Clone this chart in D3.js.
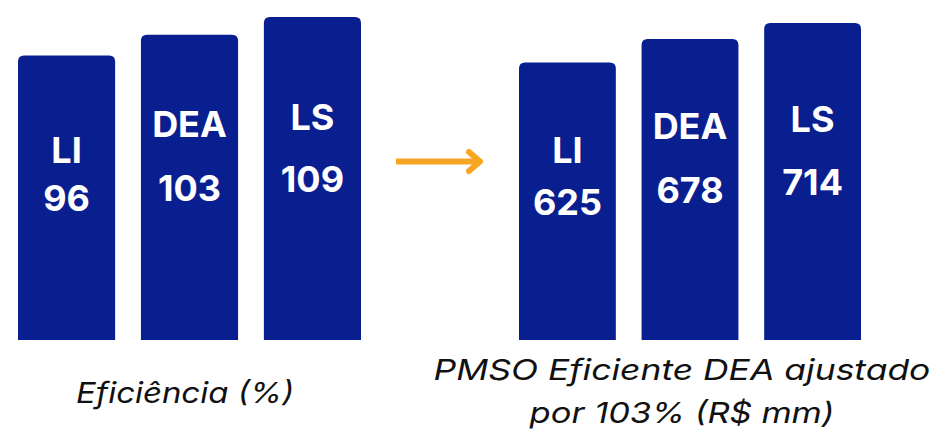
<!DOCTYPE html>
<html>
<head>
<meta charset="utf-8">
<script src="https://cdn.jsdelivr.net/npm/d3@7"></script>
<style>
  html, body { margin: 0; padding: 0; background: #ffffff; }
  svg { display: block; }
</style>
</head>
<body>
<svg id="chart" width="933" height="436"></svg>
<script>
// Categories shared by both panels
const categories = ["LI", "DEA", "LS"];
// Efficiency (%)
const efficiencyValues = [96, 103, 109];
// Efficient PMSO adjusted by 103% (R$ mm)
const pmsoValues = [625, 678, 714];
// Panel captions
const leftCaption = ["Eficiência (%)"];
const rightCaption = ["PMSO Eficiente DEA ajustado", "por 103% (R$ mm)"];

const BAR_COLOR = "#0a1f8f";
const ARROW_COLOR = "#f7a624";
const svg = d3.select("#chart");

// Per-bar label placement: name baseline below the bar top, and gap to the value line
const leftLabelLayout = [{ name: 107, gap: 48 }, { name: 102, gap: 64 }, { name: 113, gap: 62 }];
const rightLabelLayout = [{ name: 100, gap: 52 }, { name: 100, gap: 64 }, { name: 109, gap: 63 }];

function topRoundedRect(x, y, w, h, r) {
  return `M${x},${y + h}V${y + r}Q${x},${y} ${x + r},${y}H${x + w - r}Q${x + w},${y} ${x + w},${y + r}V${y + h}Z`;
}

function drawPanel(values, xRange, yScale, layout) {
  const x = d3.scaleBand().domain(categories).range(xRange).paddingInner(0.21).paddingOuter(0);
  const g = svg.append("g");
  const data = categories.map((c, i) => ({ c, v: values[i], i }));

  g.selectAll("path.bar").data(data).join("path")
    .attr("class", "bar")
    .attr("fill", BAR_COLOR)
    .attr("d", d => topRoundedRect(x(d.c), yScale(d.v), x.bandwidth(), yScale(0) - yScale(d.v), 6));

  const labels = g.selectAll("g.lbl").data(data).join("g").attr("class", "lbl")
    .attr("transform", d => `translate(${x(d.c) + x.bandwidth() / 2},${yScale(d.v)})`)
    .attr("fill", "#ffffff")
    .attr("font-family", "Inter, Roboto, sans-serif")
    .attr("font-weight", 700)
    .attr("font-size", 36)
    .attr("text-anchor", "middle");
  labels.append("text").attr("y", d => layout[d.i].name).text(d => d.c);
  labels.append("text").attr("y", d => layout[d.i].name + layout[d.i].gap).text(d => d.v);
  return x;
}

const yLeft = d3.scaleLinear().domain([0, 109]).range([340, 17]);
const yRight = d3.scaleLinear().domain([0, 714]).range([340, 23]);

drawPanel(efficiencyValues, [18, 361], yLeft, leftLabelLayout);
drawPanel(pmsoValues, [519, 861], yRight, rightLabelLayout);

// Arrow between the panels
const arrow = svg.append("g")
  .attr("stroke", ARROW_COLOR)
  .attr("stroke-width", 6)
  .attr("fill", "none");
arrow.append("line")
  .attr("x1", 396).attr("y1", 161.5).attr("x2", 481).attr("y2", 161.5);
arrow.append("polyline")
  .attr("stroke-linecap", "round")
  .attr("stroke-linejoin", "round")
  .attr("points", "469,152 480,161.5 469,171");

// Captions: wide italic face, glyphs stretched horizontally to the given width
function caption(text, cx, baseline, width) {
  const g = svg.append("g").attr("transform", `translate(${cx},${baseline})`);
  const t = g.append("text")
    .attr("font-family", "Inter, Roboto, sans-serif")
    .attr("font-style", "italic")
    .attr("font-size", 29)
    .attr("fill", "#111111")
    .attr("text-anchor", "middle")
    .text(text);
  const natural = t.node().getComputedTextLength();
  t.attr("transform", `scale(${width / natural},1)`);
}

caption(leftCaption[0], 185, 403, 218);
const captionWidths = [497, 305];
rightCaption.forEach((line, i) => caption(line, 682, 380 + i * 43, captionWidths[i]));
</script>
</body>
</html>
